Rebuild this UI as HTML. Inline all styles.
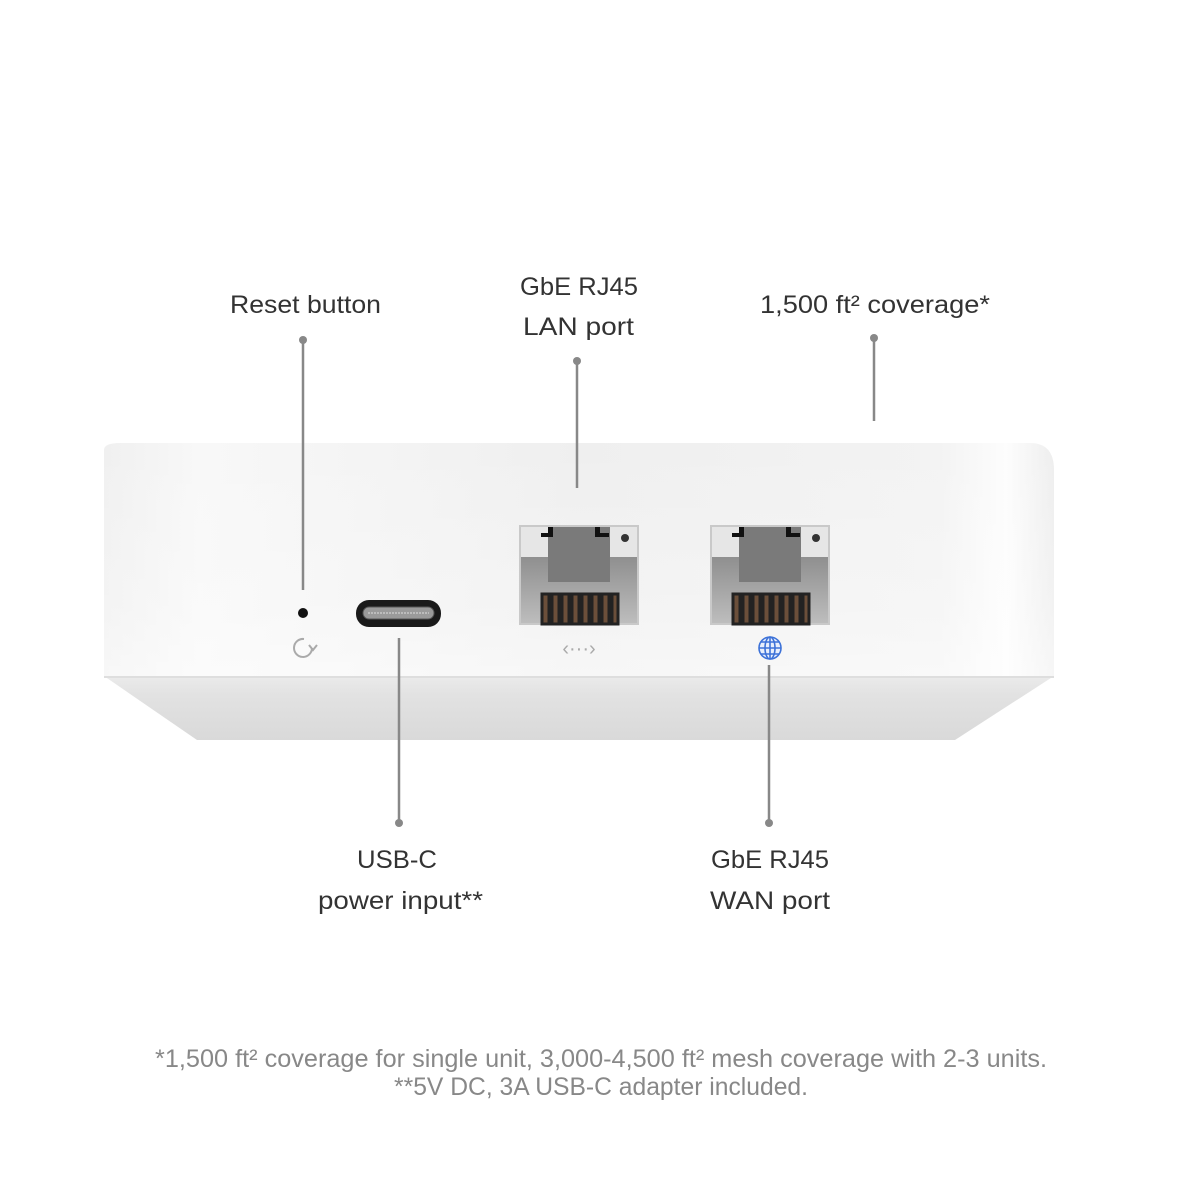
<!DOCTYPE html>
<html><head><meta charset="utf-8"><style>html,body{margin:0;padding:0;background:#fff}svg{display:block}</style></head>
<body>
<svg width="1201" height="1200" viewBox="0 0 1201 1200" xmlns="http://www.w3.org/2000/svg" font-family="Liberation Sans, sans-serif">
<defs>
<linearGradient id="face" x1="0" x2="1" y1="0" y2="0">
<stop offset="0" stop-color="#f0f0f0"/><stop offset="0.1" stop-color="#f8f8f8"/><stop offset="0.5" stop-color="#efefef"/><stop offset="0.88" stop-color="#f3f3f3"/><stop offset="0.95" stop-color="#fdfdfd"/><stop offset="1" stop-color="#eeeeee"/>
</linearGradient>
<linearGradient id="faceV" x1="0" x2="0" y1="0" y2="1">
<stop offset="0" stop-color="#fff" stop-opacity="0"/><stop offset="0.7" stop-color="#fff" stop-opacity="0.25"/><stop offset="1" stop-color="#fff" stop-opacity="0.5"/>
</linearGradient>
<linearGradient id="bot" x1="0" x2="0" y1="0" y2="1">
<stop offset="0" stop-color="#ebebeb"/><stop offset="0.3" stop-color="#e2e2e2"/><stop offset="1" stop-color="#d9d9d9"/>
</linearGradient>
<linearGradient id="jackLow" x1="0" x2="0" y1="0" y2="1">
<stop offset="0" stop-color="#8f8f8f"/><stop offset="1" stop-color="#bdbdbd"/>
</linearGradient>
<g id="jack">
<rect x="0" y="0" width="120" height="100" fill="#c9c9c9"/>
<rect x="2" y="2" width="116" height="30" fill="#e6e6e6"/>
<rect x="2" y="32" width="116" height="66" fill="url(#jackLow)"/>
<rect x="29" y="2" width="62" height="55" fill="#7a7a7a"/>
<rect x="29" y="2" width="5" height="10" fill="#111"/>
<rect x="22" y="8" width="12" height="4" fill="#111"/>
<rect x="76" y="2" width="5" height="10" fill="#111"/>
<rect x="76" y="8" width="14" height="4" fill="#111"/>
<circle cx="106" cy="13" r="4" fill="#333"/>
<g fill="#6b4f3a" stroke="#222" stroke-width="3">
<rect x="23" y="69" width="7" height="30"/><rect x="33" y="69" width="7" height="30"/><rect x="43" y="69" width="7" height="30"/><rect x="53" y="69" width="7" height="30"/><rect x="63" y="69" width="7" height="30"/><rect x="73" y="69" width="7" height="30"/><rect x="83" y="69" width="7" height="30"/><rect x="93" y="69" width="6" height="30"/>
</g>
</g>
</defs>

<polygon points="104,676 1054,676 955,740 197,740" fill="url(#bot)"/>
<line x1="104" y1="677" x2="1054" y2="677" stroke="#dedede" stroke-width="2"/>
<path d="M104,450 Q104,443 120,443 L1030,443 Q1054,443 1054,470 L1054,676 L104,676 Z" fill="url(#face)"/>
<path d="M104,450 Q104,443 120,443 L1030,443 Q1054,443 1054,470 L1054,676 L104,676 Z" fill="url(#faceV)"/>

<use href="#jack" x="519" y="525"/>
<use href="#jack" x="710" y="525"/>

<rect x="356" y="600" width="85" height="27" rx="13" fill="#1a1a1a"/>
<rect x="363" y="607" width="71" height="12" rx="6" fill="#9a9a9a" stroke="#555" stroke-width="1"/>
<line x1="368" y1="613" x2="429" y2="613" stroke="#ddd" stroke-width="1" stroke-dasharray="2,1"/>

<circle cx="303" cy="613" r="5" fill="#111"/>
<path d="M312,648 A9,9 0 1 1 304,639" fill="none" stroke="#aaa" stroke-width="2"/>
<path d="M309,645 L313,650 L317,645" fill="none" stroke="#aaa" stroke-width="2"/>

<text x="579" y="655" text-anchor="middle" font-size="20" fill="#aaa">‹···›</text>

<g stroke="#3d72d8" fill="none" stroke-width="1.6">
<circle cx="770" cy="648" r="11" fill="#e8effc"/>
<ellipse cx="770" cy="648" rx="5" ry="11"/>
<line x1="770" y1="637" x2="770" y2="659"/>
<line x1="759" y1="648" x2="781" y2="648"/>
<line x1="761" y1="642" x2="779" y2="642"/>
<line x1="761" y1="654" x2="779" y2="654"/>
</g>

<g stroke="#888" stroke-width="2.5" fill="#888">
<line x1="303" y1="340" x2="303" y2="590"/><circle cx="303" cy="340" r="4" stroke="none"/>
<line x1="577" y1="361" x2="577" y2="488"/><circle cx="577" cy="361" r="4" stroke="none"/>
<line x1="874" y1="338" x2="874" y2="421"/><circle cx="874" cy="338" r="4" stroke="none"/>
<line x1="399" y1="638" x2="399" y2="823"/><circle cx="399" cy="823" r="4" stroke="none"/>
<line x1="769" y1="665" x2="769" y2="823"/><circle cx="769" cy="823" r="4" stroke="none"/>
</g>

<g fill="#333" font-size="25">
<text x="230" y="313" textLength="151" lengthAdjust="spacingAndGlyphs">Reset button</text>
<text x="520" y="295" textLength="118" lengthAdjust="spacingAndGlyphs">GbE RJ45</text>
<text x="523" y="335" textLength="111" lengthAdjust="spacingAndGlyphs">LAN port</text>
<text x="760" y="313" textLength="230" lengthAdjust="spacingAndGlyphs">1,500 ft² coverage*</text>
<text x="357" y="868" textLength="80" lengthAdjust="spacingAndGlyphs">USB-C</text>
<text x="318" y="909" textLength="165" lengthAdjust="spacingAndGlyphs">power input**</text>
<text x="711" y="868" textLength="118" lengthAdjust="spacingAndGlyphs">GbE RJ45</text>
<text x="710" y="909" textLength="120" lengthAdjust="spacingAndGlyphs">WAN port</text>
</g>
<g fill="#888" font-size="25">
<text x="155" y="1067" textLength="892" lengthAdjust="spacingAndGlyphs">*1,500 ft² coverage for single unit, 3,000-4,500 ft² mesh coverage with 2-3 units.</text>
<text x="394" y="1095" textLength="414" lengthAdjust="spacingAndGlyphs">**5V DC, 3A USB-C adapter included.</text>
</g>
</svg>
</body></html>
